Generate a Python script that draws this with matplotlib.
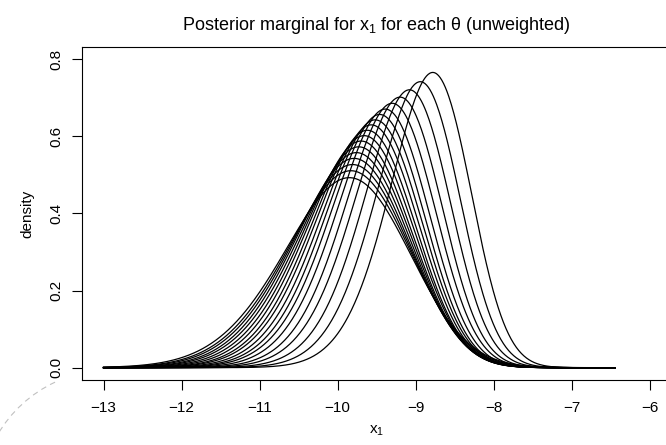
import math
import numpy as np
import matplotlib
matplotlib.use("Agg")
import matplotlib.pyplot as plt
from matplotlib.patches import Arc
from matplotlib.transforms import IdentityTransform

# ---- data (one entry per theta value) ----
mode_x = [-8.78, -8.94, -9.08, -9.20, -9.30, -9.39, -9.46, -9.52, -9.57,
          -9.62, -9.66, -9.70, -9.73, -9.76, -9.79, -9.81, -9.83, -9.85]
peak_y = [0.766, 0.742, 0.721, 0.702, 0.686, 0.671, 0.657, 0.643, 0.630,
          0.616, 0.602, 0.588, 0.573, 0.558, 0.543, 0.527, 0.511, 0.493]
skew = [-1.5, -1.5, -1.45, -1.45, -1.4, -1.4, -1.4, -1.35, -1.35,
        -1.35, -1.3, -1.3, -1.3, -1.3, -1.25, -1.25, -1.2, -1.2]
x_range = [-13.0, -6.44]
xticks = [-13, -12, -11, -10, -9, -8, -7, -6]
yticks = [0.0, 0.2, 0.4, 0.6, 0.8]

plt.rcParams['font.family'] = ['Liberation Sans', 'DejaVu Sans']

_erf = np.vectorize(math.erf)


def sn_std(z, a):
    return 2.0 * np.exp(-0.5 * z * z) / math.sqrt(2 * math.pi) * 0.5 * (1 + _erf(a * z / math.sqrt(2)))


def curve(mx, py, a, x):
    zg = np.linspace(-5, 5, 4001)
    f0 = sn_std(zg, a)
    k = np.argmax(f0)
    m0, p0 = zg[k], f0[k]
    w = p0 / py
    xi = mx - w * m0
    return sn_std((x - xi) / w, a) / w


fig = plt.figure(figsize=(6.66, 4.45), dpi=100)
ax = fig.add_axes([81.7 / 666, 1 - 380 / 445, (671.5 - 81.7) / 666, (380 - 47) / 445])

x = np.linspace(x_range[0], x_range[1], 600)
for mx, py, a in zip(mode_x, peak_y, skew):
    ax.plot(x, curve(mx, py, a, x), color='black', lw=0.9)

ax.set_xlim(-13.28, -5.72)
ax.set_ylim(-0.032, 0.832)
ax.set_xticks(xticks)
ax.set_xticklabels(['\u2212%d' % abs(t) for t in xticks])
ax.set_yticks(yticks)
ax.set_yticklabels(['%.1f' % t for t in yticks], rotation=90, va='center')
ax.tick_params(direction='out', length=7, width=0.8, labelsize=11, pad=6)
ax.tick_params(axis='x', pad=8)
for s in ax.spines.values():
    s.set_linewidth(0.8)

ax.set_xlabel('$\\mathregular{x_1}$', fontsize=11, labelpad=6)
ax.set_ylabel('density', fontsize=11, labelpad=11)
fig.text(0.5 * (81.7 + 671.5) / 666, 1 - 26 / 445,
         'Posterior marginal for $\\mathregular{x_1}$ for each \u03b8 (unweighted)',
         ha='center', va='center', fontsize=13)

arc = Arc((110, 445 - 500), 260, 260, theta1=115, theta2=185, transform=IdentityTransform(),
          color='#c0c0c0', lw=0.8, ls=(0, (5, 4)))
fig.add_artist(arc)

fig.savefig('out.png', dpi=100)
